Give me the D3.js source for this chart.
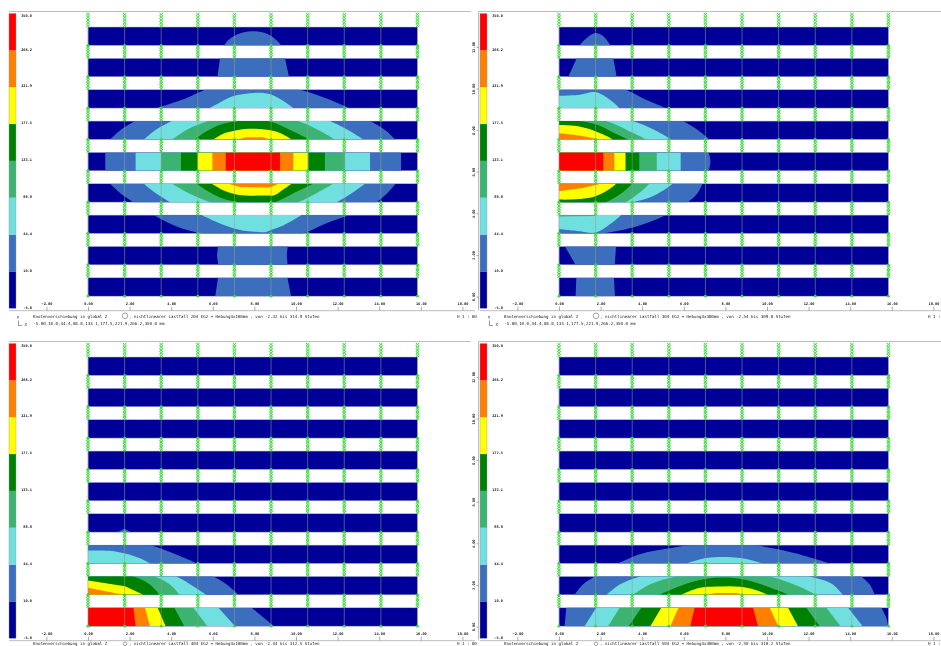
<!DOCTYPE html>
<html><head><meta charset="utf-8">
<script src="https://cdn.jsdelivr.net/npm/d3@7"></script>
<style>html,body{margin:0;padding:0;background:#fff;overflow:hidden}svg{display:block;filter:blur(.45px)}text{font-family:"DejaVu Sans Mono",monospace;fill:#222}</style>
</head><body><script>
const levelValues=[-5.0,10.0,44.4,88.8,133.1,177.5,221.9,266.2,350.0];
const levelLabels=["-5.0","10.0","44.4","88.8","133.1","177.5","221.9","266.2","350.0"];
const levelColors=["#000099","#3c6ebe","#70dfdf","#3cb371","#008000","#ffff00","#ff8000","#ff0000"];
const xTicks=[-2,0,2,4,6,8,10,12,14,16,18];
const yTicks=[0,2,4,6,8,10,12];
const bandCount=9, bandPitch=1.507, bandDepth=0.885, plateTop=12.98;
const columnCount=10, columnPitch=1.76;
const titles=["nichtlinearer Lastfall 204  EG2 + Hebung4x100mm   , von -2.32 bis 314.9 Stufen",
 "nichtlinearer Lastfall 304  EG2 + Hebung4x300mm   , von -2.54 bis 309.0 Stufen",
 "nichtlinearer Lastfall 404  EG2 + Hebung4x100mm   , von -2.44 bis 312.5 Stufen",
 "nichtlinearer Lastfall 504  EG2 + Hebung4x300mm   , von -2.50 bis 310.2 Stufen"];
const stepLine="-5.00,10.0,44.4,88.8,133.1,177.5,221.9,266.2,350.0 mm";
const scaleLabels=["H 1 : 80","H 1 :","H 1 : 80","H 1 :"];

// [band, level, polygon of [x in m, t across the band]]
const contoursA=[
[0,1,[[6.54,1],[6.75,.7],[7.0,.5],[8.83,.5],[9.05,.7],[9.31,1]]],
[1,1,[[6.35,0],[9.47,0],[9.66,1],[6.22,1]]],
[2,1,[[3.3,1],[4.74,.45],[5.63,0],[10.19,0],[11.63,.55],[12.56,1]]],
[2,2,[[5.83,1],[6.3,.72],[6.8,.42],[7.4,.25],[8.83,.27],[9.47,.67],[9.87,1]]],
[3,1,[[1.06,1],[1.55,.5],[2.26,0],[13.56,0],[14.36,.56],[14.76,1]]],
[3,2,[[2.69,1],[3.3,.45],[4.02,0],[11.63,0],[12.35,.39],[13.24,1]]],
[3,3,[[4.05,1],[4.8,.45],[5.78,0],[10.1,0],[11.07,.48],[11.87,1]]],
[3,4,[[5.14,1],[5.7,.56],[6.35,.2],[6.99,.04],[8.83,.05],[9.71,.48],[10.67,1]]],
[3,5,[[6.03,1],[6.5,.69],[7.15,.5],[8.6,.47],[8.83,.51],[9.23,.65],[9.79,1]]],
[3,6,[[7.2,1],[7.6,.88],[8.4,.88],[8.75,1]]],
[4,1,[[.83,0],[15.05,0],[15.05,1],[.83,1]]],
[4,2,[[2.29,0],[13.56,0],[13.56,1],[2.29,1]]],
[4,3,[[3.51,0],[12.36,0],[12.36,1],[3.51,1]]],
[4,4,[[4.47,0],[11.39,0],[11.39,1],[4.47,1]]],
[4,5,[[5.27,0],[10.59,0],[10.59,1],[5.27,1]]],
[4,6,[[5.98,0],[9.87,0],[9.87,1],[5.98,1]]],
[4,7,[[6.62,0],[9.23,0],[9.23,1],[6.62,1]]],
[5,1,[[1.06,0],[1.54,.5],[2.18,1],[13.88,1],[14.4,.5],[14.79,0]]],
[5,2,[[2.69,0],[3.3,.55],[3.94,1],[11.96,1],[12.7,.5],[13.32,0]]],
[5,3,[[4.05,0],[4.9,.55],[5.87,1],[10.1,1],[11,.5],[11.79,0]]],
[5,4,[[5.22,0],[5.75,.4],[6.35,.75],[7.0,.96],[8.99,1],[9.9,.5],[10.83,0]]],
[5,5,[[5.95,0],[6.5,.35],[6.99,.55],[8.59,.64],[8.91,.64],[9.4,.3],[9.79,0]]],
[5,6,[[6.75,0],[7.31,.18],[8.75,.2],[9.15,0]]],
[6,1,[[3.14,0],[4.26,.62],[5.46,1],[10.35,1],[11.47,.44],[12.6,0]]],
[6,2,[[5.46,0],[6.5,.53],[7.47,.85],[8.0,.9],[8.6,.9],[8.83,.8],[9.39,.56],[10.27,0]]],
[7,1,[[6.25,0],[9.59,0],[9.56,.5],[9.59,1],[6.28,1],[6.2,.5]]],
[8,1,[[6.25,0],[9.59,0],[9.76,1],[6.12,1]]]
];
const contoursB=[
[0,1,[[.98,1],[1.38,.55],[1.75,.33],[2.18,.55],[2.47,1]]],
[1,1,[[.85,0],[2.61,0],[2.77,1],[.45,1]]],
[2,1,[[0,0],[3.22,0],[4.18,.54],[5.14,1],[0,1]]],
[2,2,[[0,.33],[1,.27],[1.75,.13],[2.4,.5],[2.9,1],[0,1]]],
[3,1,[[0,0],[5.95,0],[6.75,.55],[7.23,1],[0,1]]],
[3,2,[[0,0],[3.54,0],[4.5,.43],[5.38,1],[0,1]]],
[3,3,[[0,0],[2.26,0],[3.38,.55],[4.18,1],[0,1]]],
[3,4,[[0,0],[1.3,.05],[1.85,.2],[2.6,.62],[3.3,1],[0,1]]],
[3,5,[[0,.21],[.98,.29],[1.75,.55],[2.58,1],[0,1]]],
[3,6,[[0,.66],[.98,.79],[1.75,.96],[1.9,1],[0,1]]],
[4,1,[[0,0],[7.2,0],[7.28,.5],[7.2,1],[0,1]]],
[4,2,[[0,0],[5.85,0],[5.85,1],[0,1]]],
[4,3,[[0,0],[4.7,0],[4.7,1],[0,1]]],
[4,4,[[0,0],[3.86,0],[3.86,1],[0,1]]],
[4,5,[[0,0],[3.2,0],[3.2,1],[0,1]]],
[4,6,[[0,0],[2.66,0],[2.66,1],[0,1]]],
[4,7,[[0,0],[2.13,0],[2.13,1],[0,1]]],
[5,1,[[0,0],[6.9,0],[6.6,.6],[6.19,1],[0,1]]],
[5,2,[[0,0],[5.46,0],[4.5,.68],[3.54,1],[0,1]]],
[5,3,[[0,0],[4.34,0],[3.8,.55],[3.22,1],[0,1]]],
[5,4,[[0,0],[3.51,0],[2.9,.6],[2.26,1],[0,1]]],
[5,5,[[0,0],[2.74,0],[2.2,.45],[1.75,.68],[0,.86]]],
[5,6,[[0,0],[2.02,0],[1.14,.23],[0,.41]]],
[6,1,[[0,0],[5.14,0],[3.54,.68],[2.02,1],[0,1]]],
[6,2,[[0,0],[2.98,0],[2.34,.59],[1.75,.95],[1,.88],[0,.77]]],
[6,3,[[0,0],[1.75,0],[1.75,.05],[0,.07]]],
[7,1,[[.29,0],[2.74,0],[2.68,1],[.79,1]]],
[8,1,[[.83,0],[2.64,0],[2.69,1],[.8,1]]]
];
const contoursC=[
[5,1,[[1.41,1],[1.76,.82],[2.05,1]]],
[6,1,[[0,0],[2.98,0],[4.26,.53],[5.22,1],[0,1]]],
[6,2,[[0,.3],[1.38,.36],[2.5,.72],[2.98,1],[0,1]]],
[7,1,[[0,0],[6.03,0],[6.67,.44],[7.23,1],[0,1]]],
[7,2,[[0,0],[4.26,0],[5.06,.53],[5.67,1],[0,1]]],
[7,3,[[0,0],[3.22,0],[3.94,.44],[4.39,1],[0,1]]],
[7,4,[[0,0],[2.18,0],[2.98,.44],[3.43,1],[0,1]]],
[7,5,[[0,.22],[1.78,.53],[2.66,1],[0,1]]],
[7,6,[[0,.62],[1.7,1],[0,1]]],
[8,1,[[0,0],[7.87,0],[8.94,1],[0,1]]],
[8,2,[[0,0],[6.27,0],[7.07,1],[0,1]]],
[8,3,[[0,0],[5.06,0],[5.74,1],[0,1]]],
[8,4,[[0,0],[4.15,0],[4.63,1],[0,1]]],
[8,5,[[0,0],[3.35,0],[3.73,1],[0,1]]],
[8,6,[[0,0],[2.74,0],[2.98,1],[0,1]]],
[8,7,[[0,0],[2.18,0],[2.29,1],[0,1]]]
];
const contoursD=[
[6,1,[[2.84,1],[3.88,.5],[5.48,.15],[6.28,0],[9.33,0],[11.25,.42],[13.01,1]]],
[6,2,[[6.12,1],[7.08,.7],[7.88,.65],[9,.75],[9.81,1]]],
[7,1,[[.75,1],[1.15,.44],[1.71,0],[14.53,0],[14.94,.44],[15.18,1]]],
[7,2,[[2.28,1],[2.92,.44],[3.88,0],[12.05,0],[13.17,.44],[13.65,1]]],
[7,3,[[3.56,1],[4.36,.44],[5.64,0],[10.13,0],[11.57,.56],[12.37,1]]],
[7,4,[[4.81,1],[5.8,.53],[7.08,.13],[8.69,.13],[9.97,.53],[11.06,1]]],
[7,5,[[5.88,1],[6.76,.62],[7.56,.55],[8.69,.56],[9.49,.75],[10.05,1]]],
[7,6,[[7.08,1],[7.56,.9],[8.53,.9],[8.85,1]]],
[8,1,[[.35,0],[15.5,0],[15.75,.6],[15.82,1],[.27,1]]],
[8,2,[[1.79,0],[13.9,0],[14.6,1],[1.23,1]]],
[8,3,[[2.92,0],[12.85,0],[13.54,1],[2.36,1]]],
[8,4,[[3.96,0],[11.89,0],[12.53,1],[3.35,1]]],
[8,5,[[4.92,0],[11.01,0],[11.49,1],[4.39,1]]],
[8,6,[[5.75,0],[10.13,0],[10.54,1],[5.35,1]]],
[8,7,[[6.52,0],[9.33,0],[9.57,1],[6.31,1]]]
];
const panelContours=[contoursA,contoursB,contoursC,contoursD];
const panelOrigins=[[0,0],[471,0],[0,330],[471,330]];

const svg=d3.select("body").append("svg").attr("width",941).attr("height",646);
const x=d3.scaleLinear().domain([0,16]).range([88,420.8]);
const y=d3.scaleLinear().domain([0,12]).range([297,47.4]);
const bar=d3.scaleLinear().domain([0,8]).range([308.3,13.5]);
const band=b=>plateTop-b*bandPitch;
const polyY=(b,t)=>y(band(b)-t*bandDepth);
const bands=d3.range(bandCount), columns=d3.range(columnCount).map(i=>i*columnPitch);
const poly=d3.line().x(d=>d[0]).y(d=>d[1]);
const smooth=d3.line().x(d=>d[0]).y(d=>d[1]).curve(d3.curveCatmullRom.alpha(1));

const defs=svg.append("defs");
bands.forEach(b=>defs.append("clipPath").attr("id","band"+b).append("rect")
 .attr("x",x(0)).attr("width",x(columns[9])-x(0)).attr("y",y(band(b))).attr("height",y(band(b)-bandDepth)-y(band(b))));

panelContours.forEach((contours,p)=>{
 const g=svg.append("g").attr("transform",`translate(${panelOrigins[p]})`);
 const right=p%2===1, bottom=p>1;
 // rules
 g.append("line").attr("x1",right?8:9).attr("x2",right?470:471).attr("y1",11.5).attr("y2",11.5).attr("stroke","#bdbdbd");
 g.append("line").attr("x1",9).attr("x2",right?470:475).attr("y1",310.7).attr("y2",310.7).attr("stroke","#bdbdbd");
 // colour bar
 g.selectAll(".bar").data(levelColors).join("rect").attr("x",9).attr("width",7)
  .attr("y",(d,i)=>bar(i+1)).attr("height",(d,i)=>bar(i)-bar(i+1)).attr("fill",d=>d);
 g.append("rect").attr("x",9).attr("width",7).attr("y",bar(8)).attr("height",bar(0)-bar(8)).attr("fill","none").attr("stroke","#999").attr("stroke-width",.4);
 g.selectAll(".bl").data(levelLabels).join("text").attr("x",32).attr("text-anchor","end")
  .attr("y",(d,i)=>bar(i)+(i===8?2.5:-1)).attr("dy",".35em").attr("font-size",3.6).attr("font-weight","bold").text(d=>d);
 // plate bands
 g.selectAll(".pl").data(bands).join("rect").attr("x",x(0)).attr("width",x(columns[9])-x(0))
  .attr("y",b=>y(band(b))).attr("height",b=>y(band(b)-bandDepth)-y(band(b)))
  .attr("fill",levelColors[0]).attr("stroke","#b4b4d8").attr("stroke-width",.5);
 // contours
 g.selectAll(".ct").data(contours).join("path")
  .attr("clip-path",c=>`url(#band${c[0]})`)
  .attr("d",c=>{const pts=c[2].map(q=>[x(q[0]),polyY(c[0],q[1])]);return (pts.length>4?smooth:poly)(pts)+"Z";})
  .attr("fill",c=>levelColors[c[1]]);
 // grid columns
 g.selectAll(".gr").data(columns).join("line").attr("x1",d=>x(d)).attr("x2",d=>x(d))
  .attr("y1",y(band(0))).attr("y2",y(band(8)-bandDepth)).attr("stroke","#9a9a9a").attr("stroke-opacity",.65).attr("stroke-width",.8);
 // node chains in gaps
 const spans=[[bar(8)-.5,y(band(0))]].concat(d3.range(bandCount-1).map(b=>[y(band(b)-bandDepth),y(band(b+1))]));
 columns.forEach(c=>{
  spans.forEach(s=>{
   const n=Math.round((s[1]-s[0])/2.8), st=(s[1]-s[0])/n;
   [1,-1].forEach(sign=>{
    g.append("path").attr("d",poly(d3.range(n+1).map(i=>[x(c)+sign*(i%2?1.7:-1.7),s[0]+i*st])))
     .attr("fill","none").attr("stroke","#30e030").attr("stroke-width",1);
   });
  });
  g.selectAll(null).data(bands).join("circle").attr("cx",x(c)).attr("cy",b=>y(band(b)-bandDepth)).attr("r",1.4).attr("fill","#30e030");
 });
 // axes
 const ax=g.append("g").attr("transform","translate(0,310.7)")
  .call(d3.axisTop(x).tickValues(xTicks).tickFormat(d3.format(".2f")).tickSize(4).tickPadding(1.5));
 ax.select(".domain").remove();
 ax.selectAll("line").attr("stroke","#888").attr("stroke-width",.7);
 ax.selectAll("text").attr("font-size",3.6).attr("font-weight","bold").attr("font-family",'"DejaVu Sans Mono",monospace');
 if(right){
  g.append("line").attr("x1",7.5).attr("x2",7.5).attr("y1",11.5).attr("y2",310.7).attr("stroke","#bdbdbd");
  const ay=g.append("g").attr("transform","translate(7.5,0)").call(d3.axisLeft(y).tickValues(yTicks).tickFormat(d3.format(".2f")).tickSize(2).tickPadding(1));
  ay.select(".domain").remove();
  ay.selectAll("line").attr("stroke","#888").attr("stroke-width",.7);
  ay.selectAll("text").attr("font-size",3.6).attr("font-weight","bold").attr("font-family",'"DejaVu Sans Mono",monospace')
   .attr("text-anchor","middle").attr("transform",d=>`rotate(-90 ${-4.5} ${y(d)})`).attr("x",-4.5).attr("dy",".35em");
  ay.selectAll(".tick").each(function(d){d3.select(this).attr("transform","translate(0,0)").select("line").attr("transform",`translate(0,${y(d)})`);
   d3.select(this).select("text").attr("y",y(d));});
 }
 // footer: the lower panels run into the page edge, so only their first line is in view
 const t=(s,tx,ty)=>g.append("text").attr("x",tx).attr("y",ty).attr("dy",".35em").attr("font-size",4.12).text(s);
 const first=bottom?313.8:316.6;
 t("Knotenverschiebung in global Z",33,first);
 g.append("circle").attr("cx",125).attr("cy",bottom?313.8:315.8).attr("r",bottom?1.8:2.8).attr("fill","none").attr("stroke","#666").attr("stroke-width",.6);
 t(", "+titles[p],129,first);
 t(scaleLabels[p],457,first);
 if(!bottom){
  t(stepLine,33.3,323.7);
  t("Y",16.8,318);t("X",24.5,325);
  g.append("path").attr("d","M18.5,320.5V325.5H22").attr("fill","none").attr("stroke","#555").attr("stroke-width",.6);
 }
});
</script></body></html>
